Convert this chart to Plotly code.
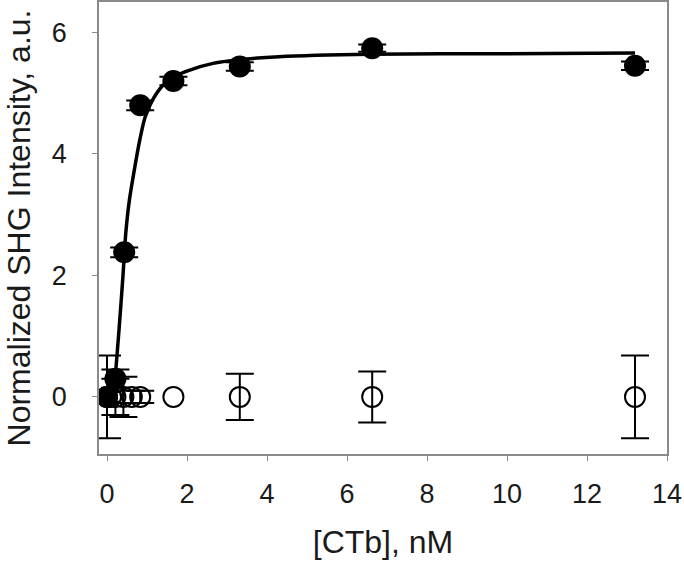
import plotly.graph_objects as go

# filled points (binding)
x_bound = [0, 0.21, 0.43, 0.83, 1.66, 3.32, 6.63, 13.2]
y_bound = [0.0, 0.3, 2.38, 4.8, 5.2, 5.44, 5.74, 5.45]
err_bound = [0.08, 0.15, 0.08, 0.08, 0.07, 0.07, 0.06, 0.07]

# open points (control); None = no error bar drawn
x_ctrl = [0, 0.1, 0.21, 0.41, 0.62, 0.83, 1.66, 3.32, 6.63, 13.2]
y_ctrl = [0, 0, 0, 0, 0, 0, 0, 0, 0, 0]
err_ctrl = [0.68, 0.1, 0.3, 0.33, 0.1, 0.1, None, 0.38, 0.42, 0.68]

# fitted curve
x_fit = [0.17, 0.22, 0.3, 0.4, 0.47, 0.56, 0.7, 0.82, 0.95, 1.15, 1.4, 1.7,
         2.07, 2.65, 3.3, 4.3, 6.6, 10, 13.2]
y_fit = [0.0, 0.44, 1.1, 2.0, 2.7, 3.24, 3.8, 4.23, 4.6, 4.9, 5.13, 5.28,
         5.38, 5.49, 5.55, 5.6, 5.64, 5.65, 5.66]

x_ticks = [0, 2, 4, 6, 8, 10, 12, 14]
y_ticks = [0, 2, 4, 6]

font = 'Liberation Sans, Arial, sans-serif'

has_err = [e is not None for e in err_ctrl]

fig = go.Figure()

# error bars for the control points that have them
fig.add_trace(go.Scatter(
    x=[x for x, h in zip(x_ctrl, has_err) if h],
    y=[y for y, h in zip(y_ctrl, has_err) if h],
    mode='markers', marker=dict(size=0.1, color='rgba(0,0,0,0)'),
    error_y=dict(type='data', array=[e for e in err_ctrl if e is not None],
                 color='black', thickness=2, width=14),
    showlegend=False))

fig.add_trace(go.Scatter(
    x=x_ctrl, y=y_ctrl, mode='markers',
    marker=dict(symbol='circle-open', size=20, color='black', line=dict(width=2, color='black')),
    showlegend=False))

fig.add_trace(go.Scatter(
    x=x_bound, y=y_bound, mode='markers',
    marker=dict(symbol='circle', size=22, color='black'),
    error_y=dict(type='data', array=err_bound, color='black', thickness=2, width=14),
    showlegend=False))

fig.add_trace(go.Scatter(
    x=x_fit, y=y_fit, mode='lines',
    line=dict(color='black', width=3.5, shape='spline', smoothing=0.8),
    showlegend=False))

fig.update_layout(
    width=684, height=567,
    margin=dict(l=99, r=17, t=2, b=113),
    plot_bgcolor='white', paper_bgcolor='white',
    font=dict(family=font, size=27, color='#1a1a1a'),
    xaxis=dict(range=[-0.2, 14], tickvals=x_ticks, showgrid=False, zeroline=False,
               showline=True, linecolor='#8a8a8a', linewidth=1.5, mirror=True,
               ticks='outside', ticklen=5, tickcolor='#8a8a8a', ticklabelstandoff=10,
               title=dict(text='[CTb], nM', font=dict(size=32), standoff=22),
               automargin=False),
    yaxis=dict(range=[-0.94, 6.5], tickvals=y_ticks, showgrid=False, zeroline=False,
               showline=True, linecolor='#8a8a8a', linewidth=1.5, mirror=True,
               ticks='outside', ticklen=5, tickcolor='#8a8a8a', ticklabelstandoff=20,
               title=dict(text='Normalized SHG Intensity, a.u.', font=dict(size=32), standoff=12),
               automargin=False),
)

# the page has an 8px body margin by default; drop it so the figure sits at the corner
fig.write_html('out.html', config={'displayModeBar': False},
               post_script="document.body.style.margin='0';")
